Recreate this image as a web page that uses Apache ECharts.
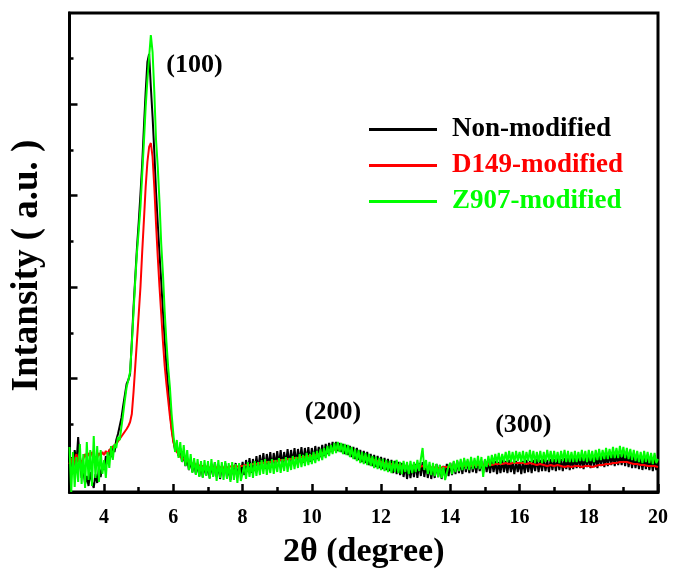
<!DOCTYPE html>
<html>
<head>
<meta charset="utf-8">
<title>XRD patterns</title>
<script src="https://cdn.jsdelivr.net/npm/echarts@6/dist/echarts.min.js"></script>
<style>
  html, body { margin: 0; padding: 0; background: #fff; }
  #chart { width: 676px; height: 577px; }
</style>
</head>
<body>
<div id="chart"></div>
<script>
// Scan grid: 2θ from 3.00° to 20.00° in 0.05° steps
const scanStart = 3.0;
const scanStep = 0.05;

// Intensities (a.u.), one row per degree of 2θ
const nonModified = [
  20, 35, 18, 42, 28, 55, 30, 14, 22, 8, 16, 6, 20, 10, 4, 18, 9, 24, 15, 28,
  22, 36, 30, 42, 35, 46, 40, 52, 58, 66, 74, 86, 97, 108, 112, 118, 150, 185, 215, 245,
  270, 298, 328, 365, 400, 430, 438, 405, 375, 340, 300, 268, 238, 210, 180, 152, 126, 104, 82, 64,
  52, 42, 46, 36, 44, 30, 38, 26, 34, 22, 32, 20, 30, 18, 28, 16, 27, 15, 26, 17,
  26, 14, 28, 16, 30, 15, 27, 13, 26, 17, 29, 14, 25, 12, 27, 16, 29, 15, 26, 18,
  30, 17, 32, 20, 34, 19, 33, 21, 36, 22, 37, 24, 39, 23, 38, 25, 40, 24, 39, 26,
  41, 27, 42, 26, 40, 28, 43, 27, 42, 29, 44, 28, 43, 30, 45, 29, 44, 31, 45, 30,
  44, 32, 46, 33, 45, 35, 47, 36, 48, 38, 49, 40, 50, 42, 50, 41, 49, 40, 48, 38,
  47, 37, 46, 35, 45, 33, 44, 32, 42, 30, 41, 29, 40, 27, 38, 26, 37, 25, 36, 24,
  35, 23, 34, 22, 33, 21, 32, 19, 31, 18, 30, 17, 29, 15, 27, 13, 26, 14, 27, 15,
  28, 14, 29, 16, 30, 15, 28, 14, 27, 13, 26, 14, 28, 15, 27, 13, 26, 15, 28, 16,
  29, 17, 30, 18, 31, 19, 30, 18, 32, 20, 31, 19, 32, 20, 31, 19, 32, 21, 31, 19,
  32, 20, 31, 19, 32, 20, 31, 18, 30, 19, 32, 20, 31, 19, 32, 20, 30, 18, 31, 20,
  30, 18, 31, 19, 32, 20, 31, 19, 32, 21, 33, 20, 32, 21, 33, 21, 32, 20, 33, 22,
  33, 21, 34, 22, 33, 21, 34, 23, 35, 22, 34, 23, 35, 24, 36, 24, 35, 23, 36, 25,
  36, 24, 37, 25, 36, 24, 37, 26, 38, 25, 37, 26, 39, 27, 38, 26, 39, 27, 38, 27,
  39, 26, 38, 25, 37, 24, 37, 24, 36, 23, 36, 22, 35, 23, 35, 22, 34, 21, 34, 22,
  30
];

const d149Modified = [
  28, 34, 26, 32, 38, 30, 35, 28, 33, 38, 34, 39, 35, 40, 36, 38, 34, 39, 36, 40,
  37, 41, 38, 42, 40, 45, 44, 48, 50, 53, 55, 58, 60, 63, 66, 70, 78, 100, 126, 152,
  178, 205, 240, 272, 305, 330, 345, 349, 335, 305, 268, 235, 205, 178, 150, 126, 108, 92, 76, 62,
  50, 44, 40, 38, 35, 36, 33, 34, 31, 32, 29, 31, 28, 30, 27, 29, 26, 28, 26, 27,
  25, 27, 24, 26, 25, 27, 24, 26, 25, 27, 24, 26, 25, 27, 26, 28, 25, 27, 26, 28,
  26, 28, 27, 29, 27, 29, 28, 30, 28, 30, 29, 31, 29, 31, 30, 32, 30, 32, 31, 33,
  31, 33, 32, 34, 32, 34, 33, 35, 33, 35, 34, 36, 34, 36, 35, 37, 35, 37, 36, 38,
  36, 38, 37, 39, 38, 40, 39, 41, 40, 42, 41, 43, 42, 44, 43, 45, 44, 45, 43, 44,
  42, 43, 40, 41, 38, 39, 37, 38, 36, 37, 35, 36, 34, 35, 33, 34, 32, 33, 31, 32,
  30, 31, 29, 30, 28, 29, 28, 29, 27, 28, 27, 28, 26, 27, 26, 27, 25, 27, 26, 27,
  26, 27, 25, 27, 26, 27, 25, 26, 24, 26, 25, 26, 24, 25, 24, 26, 25, 26, 25, 26,
  25, 27, 26, 27, 26, 28, 26, 27, 26, 28, 27, 28, 26, 28, 27, 28, 27, 29, 27, 28,
  27, 29, 28, 29, 27, 29, 28, 30, 28, 29, 28, 30, 29, 30, 28, 30, 29, 31, 29, 30,
  29, 31, 29, 30, 28, 30, 29, 30, 28, 29, 27, 29, 28, 29, 27, 28, 26, 28, 27, 28,
  26, 28, 27, 28, 26, 27, 25, 27, 26, 27, 25, 27, 26, 28, 26, 27, 25, 27, 26, 27,
  26, 27, 25, 27, 26, 28, 27, 28, 27, 29, 28, 29, 28, 30, 29, 30, 29, 31, 30, 31,
  30, 29, 30, 28, 29, 27, 28, 27, 28, 26, 27, 26, 27, 25, 26, 25, 26, 24, 26, 25,
  25
];

const z907Modified = [
  45, 0, 40, 5, 35, 10, 48, 8, 38, 4, 50, 12, 42, 6, 56, 14, 46, 10, 42, 18,
  32, 14, 40, 24, 46, 32, 48, 44, 55, 52, 65, 78, 92, 105, 112, 120, 148, 180, 212, 240,
  262, 285, 318, 350, 385, 412, 435, 457, 440, 400, 352, 325, 290, 248, 218, 180, 150, 125, 105, 78,
  58, 40, 52, 34, 50, 30, 47, 26, 42, 22, 38, 19, 34, 17, 33, 15, 31, 14, 32, 16,
  31, 13, 33, 15, 30, 11, 32, 14, 30, 12, 31, 13, 29, 10, 30, 12, 28, 9, 29, 11,
  10, 27, 13, 30, 15, 29, 14, 31, 16, 30, 17, 32, 18, 33, 17, 31, 19, 33, 18, 32,
  20, 34, 19, 33, 21, 35, 20, 34, 22, 36, 23, 35, 24, 38, 25, 37, 26, 39, 27, 38,
  28, 40, 29, 41, 31, 43, 32, 44, 34, 46, 36, 47, 38, 49, 39, 50, 40, 49, 38, 48,
  37, 47, 35, 45, 33, 43, 31, 42, 29, 40, 28, 39, 27, 38, 26, 36, 24, 35, 23, 34,
  22, 33, 21, 32, 20, 31, 19, 31, 20, 32, 19, 30, 18, 31, 20, 30, 18, 31, 19, 30,
  20, 32, 21, 33, 44, 22, 32, 18, 30, 17, 29, 16, 28, 15, 27, 14, 25, 12, 11, 26,
  29, 18, 31, 20, 32, 21, 33, 22, 34, 23, 33, 22, 35, 23, 34, 24, 36, 23, 35, 15,
  33, 25, 36, 26, 37, 28, 38, 29, 39, 28, 38, 30, 40, 30, 41, 30, 40, 29, 41, 31,
  40, 30, 41, 29, 40, 31, 42, 30, 41, 29, 40, 30, 41, 29, 40, 30, 42, 31, 41, 30,
  41, 30, 40, 29, 41, 31, 42, 30, 41, 30, 40, 30, 41, 30, 40, 31, 42, 31, 41, 30,
  42, 31, 41, 30, 42, 32, 43, 32, 42, 33, 44, 33, 43, 34, 45, 34, 44, 34, 46, 35,
  45, 34, 44, 33, 43, 32, 42, 31, 41, 30, 40, 29, 41, 30, 40, 29, 39, 28, 39, 29,
  33
];

// Axis ticks
const xMajorTicks = [4, 6, 8, 10, 12, 14, 16, 18, 20];
const xMinorTicks = [5, 7, 9, 11, 13, 15, 17, 19];
const yMajorTicks = [22, 113.5, 205, 296.5, 388];
const yMinorTicks = [67.75, 159.25, 250.75, 342.25, 433.75];

// Reflection labels: position (2θ, intensity) and text
const peakLabelX = [6.61, 10.61, 16.11];
const peakLabelY = [427, 80, 67];
const peakLabelText = ['(100)', '(200)', '(300)'];

const seriesNames = ['Non-modified', 'D149-modified', 'Z907-modified'];
const seriesColors = ['#000000', '#ff0000', '#00ff00'];
const seriesValues = [nonModified, d149Modified, z907Modified];

const FONT = "'Liberation Serif', 'Times New Roman', serif";

function toPairs(values) {
  return values.map((v, i) => [+(scanStart + i * scanStep).toFixed(2), v]);
}

const chart = echarts.init(document.getElementById('chart'), null, { renderer: 'canvas' });

const lineSeries = seriesNames.map((name, k) => ({
  name: name,
  type: 'line',
  xAxisIndex: 0,
  yAxisIndex: 0,
  data: toPairs(seriesValues[k]),
  showSymbol: false,
  symbol: 'none',
  lineStyle: { color: seriesColors[k], width: 2 },
  itemStyle: { color: seriesColors[k] },
  emphasis: { disabled: true },
  z: 2 + k
}));

const labelSeries = {
  name: 'reflections',
  type: 'scatter',
  xAxisIndex: 0,
  yAxisIndex: 0,
  symbolSize: 0,
  itemStyle: { color: '#000000' },
  silent: true,
  emphasis: { disabled: true },
  data: peakLabelX.map((x, i) => [x, peakLabelY[i], peakLabelText[i]]),
  label: {
    show: true,
    position: 'inside',
    formatter: p => p.value[2],
    color: '#000000',
    opacity: 1,
    textBorderWidth: 0,
    fontFamily: FONT,
    fontWeight: 'bold',
    fontSize: 26
  },
  z: 10
};

const axisFont = { fontFamily: FONT, fontWeight: 'bold', color: '#000' };

chart.setOption({
  animation: false,
  backgroundColor: '#fff',
  grid: {
    left: 69.5, right: 18, top: 13, bottom: 85,
    show: true, borderColor: '#000', borderWidth: 3,
    backgroundColor: 'transparent'
  },
  legend: {
    orient: 'vertical',
    left: 364,
    top: 111,
    icon: 'rect',
    itemWidth: 68,
    itemHeight: 3,
    itemGap: 9,
    data: seriesNames.map((n, k) => ({
      name: n,
      textStyle: { color: seriesColors[k] }
    })),
    textStyle: {
      fontFamily: FONT, fontWeight: 'bold', fontSize: 27, lineHeight: 26,
      padding: [0, 0, 0, 10]
    }
  },
  xAxis: [
    {
      type: 'value', min: 3, max: 20, position: 'bottom',
      name: '2θ (degree)', nameLocation: 'middle', nameGap: 43,
      nameTextStyle: Object.assign({ fontSize: 34 }, axisFont),
      axisLine: { show: true, onZero: false, lineStyle: { color: '#000', width: 3 } },
      axisTick: { show: true, inside: true, length: 8, customValues: xMajorTicks,
                  lineStyle: { color: '#000', width: 2.5 } },
      axisLabel: Object.assign({ show: true, margin: 16, fontSize: 20, customValues: xMajorTicks }, axisFont),
      splitLine: { show: false }
    },
    {
      type: 'value', min: 3, max: 20, position: 'bottom',
      axisLine: { show: false, onZero: false },
      axisTick: { show: true, inside: true, length: 5, customValues: xMinorTicks,
                  lineStyle: { color: '#000', width: 2.5 } },
      axisLabel: { show: false },
      splitLine: { show: false }
    }
  ],
  yAxis: [
    {
      type: 'value', min: 0, max: 479, position: 'left',
      name: 'Intansity ( a.u. )', nameLocation: 'middle', nameGap: 24, nameRotate: 90,
      nameTextStyle: Object.assign({ fontSize: 37, padding: [0, 26, 0, 0] }, axisFont),
      axisLine: { show: true, onZero: false, lineStyle: { color: '#000', width: 3 } },
      axisTick: { show: true, inside: true, length: 8, customValues: yMajorTicks,
                  lineStyle: { color: '#000', width: 2.5 } },
      axisLabel: { show: false },
      splitLine: { show: false }
    },
    {
      type: 'value', min: 0, max: 479, position: 'left',
      axisLine: { show: false, onZero: false },
      axisTick: { show: true, inside: true, length: 4, customValues: yMinorTicks,
                  lineStyle: { color: '#000', width: 2.5 } },
      axisLabel: { show: false },
      splitLine: { show: false }
    }
  ],
  series: lineSeries.concat([labelSeries])
});
</script>
</body>
</html>
